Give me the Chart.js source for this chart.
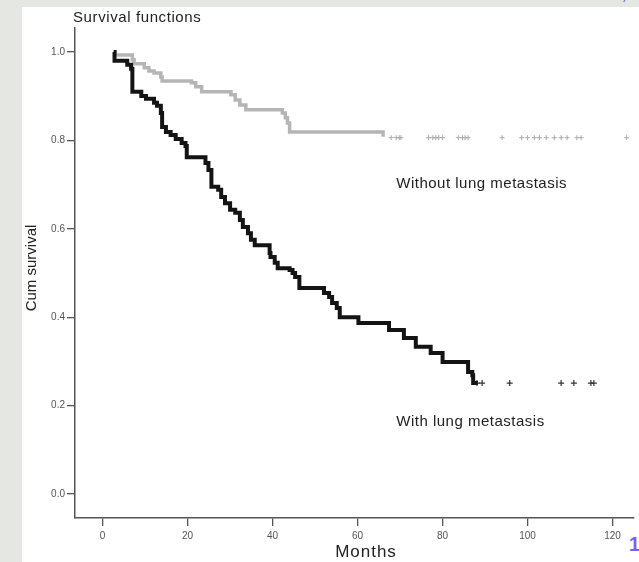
<!DOCTYPE html>
<html>
<head>
<meta charset="utf-8">
<script src="https://cdn.jsdelivr.net/npm/chart.js@4/dist/chart.umd.min.js"></script>
<style>
  html, body { margin: 0; padding: 0; }
  body { width: 639px; height: 562px; background: #e5e7e2; position: relative; overflow: hidden; }
  #panel { position: absolute; left: 22px; top: 7px; width: 617px; height: 555px; background: #fff; }
  #pageNo { position: absolute; left: 629px; top: 533px; font: bold 20px "Liberation Sans", Arial, sans-serif; color: #7462f5; }
  #mark { position: absolute; left: 624px; top: -11px; font: italic 14px "Liberation Sans", Arial, sans-serif; color: #7462f5; }
</style>
</head>
<body>
<div id="mark">/</div>
<div id="panel"><canvas id="km" width="617" height="555"></canvas></div>
<div id="pageNo">14</div>
<script>
// Kaplan-Meier steps (months, cumulative survival)
const withMonths = [2.6, 2.8, 5.8, 6.7, 7.0, 9.1, 10.2, 12.1, 12.8, 13.7, 14.0, 14.9, 16.0, 17.2, 18.6,
  19.5, 19.8, 24.2, 24.9, 25.6, 27.2, 27.9, 28.8, 30.0, 31.2, 32.3, 33.0, 34.2, 34.9, 35.8,
  39.3, 39.5, 40.5, 41.2, 44.0, 44.7, 45.3, 46.3, 52.1, 53.3, 54.0, 55.1, 55.8, 60.2, 67.4,
  70.9, 73.7, 77.2, 80.0, 86.0, 87.0, 87.2, 88.3];
const withSurv = [1.0, 0.980, 0.971, 0.962, 0.910, 0.900, 0.894, 0.885, 0.878, 0.862, 0.830, 0.819, 0.812, 0.803, 0.794,
  0.787, 0.762, 0.749, 0.733, 0.695, 0.688, 0.672, 0.658, 0.643, 0.636, 0.620, 0.604, 0.590, 0.575, 0.563,
  0.545, 0.536, 0.523, 0.511, 0.507, 0.500, 0.491, 0.466, 0.455, 0.446, 0.432, 0.421, 0.400, 0.387, 0.371,
  0.353, 0.333, 0.319, 0.299, 0.276, 0.269, 0.251, 0.251];
const withCensorMonths = [88.1, 89.3, 95.8, 107.9, 110.9, 114.9, 115.6];
const withCensorSurv = 0.251;

const withoutMonths = [2.6, 3.0, 7.0, 7.4, 9.8, 10.9, 12.1, 13.7, 14.0, 20.9, 21.9, 23.3, 30.2, 31.2, 32.3,
  33.7, 42.3, 43.0, 43.5, 44.0, 66.0];
const withoutSurv = [1.0, 0.993, 0.982, 0.973, 0.964, 0.957, 0.952, 0.943, 0.934, 0.930, 0.921, 0.910, 0.903, 0.891, 0.880,
  0.869, 0.862, 0.851, 0.839, 0.819, 0.808];
const withoutCensorMonths = [67.9, 69.1, 69.8, 70.2, 76.7, 77.7, 78.4, 79.1, 80.0, 83.7, 84.7, 85.3, 86.0,
  94.0, 98.6, 100.0, 101.6, 102.8, 104.4, 106.3, 107.9, 109.3, 111.6, 112.6, 123.3];
const withoutCensorSurv = 0.806;

const xTicks = [0, 20, 40, 60, 80, 100, 120];
const yTicks = [0, 0.2, 0.4, 0.6, 0.8, 1.0];

const labels = [
  { text: 'Without lung metastasis', month: 69.1, surv: 0.701 },
  { text: 'With lung metastasis', month: 69.1, surv: 0.163 }
];

const toPoints = (xs, ys) => xs.map((x, i) => ({ x: x, y: Array.isArray(ys) ? ys[i] : ys }));

const FONT = '"Liberation Sans", Arial, Helvetica, sans-serif';

// Title, axis titles and the two curve labels
const textPlugin = {
  id: 'texts',
  afterDraw(chart) {
    const ctx = chart.ctx;
    const xs = chart.scales.x, ys = chart.scales.y;
    ctx.save();
    ctx.fillStyle = '#222';
    ctx.textBaseline = 'middle';

    ctx.font = '15px ' + FONT;
    ctx.letterSpacing = '0.6px';
    ctx.textAlign = 'left';
    ctx.fillText('Survival functions', chart.chartArea.left - 2, 11);

    ctx.letterSpacing = '0.5px';
    labels.forEach(l => {
      ctx.fillText(l.text, xs.getPixelForValue(l.month), ys.getPixelForValue(l.surv));
    });

    ctx.font = '17px ' + FONT;
    ctx.letterSpacing = '1px';
    ctx.textAlign = 'center';
    ctx.fillText('Months', 344, 545);

    ctx.font = '15px ' + FONT;
    ctx.letterSpacing = '0px';
    ctx.translate(10, 261);
    ctx.rotate(-Math.PI / 2);
    ctx.fillText('Cum survival', 0, 0);
    ctx.restore();
  }
};

const axisStyle = {
  grid: { drawOnChartArea: false, drawTicks: true, tickLength: 8, color: '#555', lineWidth: 1.3 },
  border: { color: '#555', width: 1.5 }
};

new Chart(document.getElementById('km'), {
  type: 'line',
  data: {
    datasets: [
      {
        label: 'With lung metastasis',
        data: toPoints(withMonths, withSurv),
        stepped: true,
        borderColor: '#141414',
        borderWidth: 4,
        pointRadius: 0,
        fill: false,
        order: 1
      },
      {
        label: 'With lung metastasis censored',
        data: toPoints(withCensorMonths, withCensorSurv),
        showLine: false,
        pointStyle: 'cross',
        pointRadius: 3,
        borderColor: '#333',
        borderWidth: 1.2,
        order: 2
      },
      {
        label: 'Without lung metastasis',
        data: toPoints(withoutMonths, withoutSurv),
        stepped: true,
        borderColor: '#b5b5b5',
        borderWidth: 3.5,
        pointRadius: 0,
        fill: false,
        order: 3
      },
      {
        label: 'Without lung metastasis censored',
        data: toPoints(withoutCensorMonths, withoutCensorSurv),
        showLine: false,
        pointStyle: 'cross',
        pointRadius: 2.5,
        borderColor: '#aaa',
        borderWidth: 1,
        order: 4
      }
    ]
  },
  options: {
    responsive: false,
    animation: false,
    devicePixelRatio: 1,
    layout: { padding: { top: 21, right: 0, left: 0, bottom: 0 } },
    plugins: {
      legend: { display: false },
      tooltip: { enabled: false },
      title: { display: false }
    },
    scales: {
      x: {
        type: 'linear',
        min: -6.5,
        max: 125,
        ...axisStyle,
        afterBuildTicks: s => { s.ticks = xTicks.map(v => ({ value: v })); },
        afterFit: s => { s.height = 44; },
        ticks: {
          color: '#555',
          padding: 4,
          font: { size: 10, family: FONT },
          callback: v => String(v)
        }
      },
      y: {
        type: 'linear',
        min: -0.054,
        max: 1.054,
        ...axisStyle,
        afterBuildTicks: s => { s.ticks = yTicks.map(v => ({ value: v })); },
        afterFit: s => { s.width = 53; },
        ticks: {
          color: '#555',
          padding: 2,
          font: { size: 10, family: FONT },
          callback: v => v.toFixed(1)
        }
      }
    }
  },
  plugins: [textPlugin]
});
</script>
</body>
</html>
